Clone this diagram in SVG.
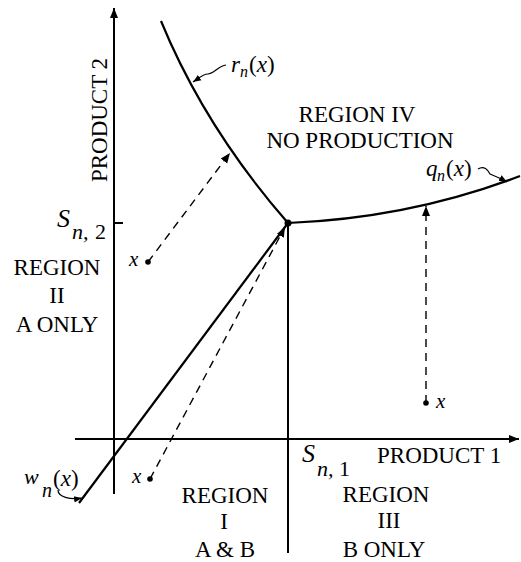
<svg xmlns="http://www.w3.org/2000/svg" width="521" height="562" viewBox="0 0 521 562">
<defs>
<style>
.ax{stroke:#000;stroke-width:2;fill:none}
.cv{stroke:#000;stroke-width:2.2;fill:none}
.ds{stroke:#000;stroke-width:1.4;fill:none;stroke-dasharray:8 6}
.ld{stroke:#000;stroke-width:1.2;fill:none}
text{font-family:"Liberation Serif","Times New Roman",serif;fill:#000}
.lb{font-size:23px;text-anchor:middle}
.it{font-style:italic}
</style>
<marker id="ah" viewBox="0 0 10 10" refX="10" refY="5" markerWidth="10" markerHeight="10" markerUnits="userSpaceOnUse" orient="auto">
<path d="M0,1 L10,5 L0,9 Z" fill="#000"/>
</marker>
<marker id="ahs" viewBox="0 0 10 10" refX="10" refY="5" markerWidth="8" markerHeight="8" markerUnits="userSpaceOnUse" orient="auto">
<path d="M0,1 L10,5 L0,9 Z" fill="#000"/>
</marker>
</defs>
<rect width="521" height="562" fill="#fff"/>
<g id="connectors">
<line class="ax" x1="114" y1="494" x2="114" y2="8" marker-end="url(#ah)"/>
<line class="ax" x1="75" y1="439" x2="519" y2="439" marker-end="url(#ah)"/>
<line class="ax" x1="114" y1="223" x2="123" y2="223"/>
<line class="ax" x1="288" y1="223" x2="288" y2="553"/>
<path id="rn" class="cv" d="M161,21 Q205,128 288,223"/>
<path id="qn" class="cv" d="M288,223 Q410,218 520,176"/>
<line id="wn" class="cv" x1="288" y1="223" x2="79" y2="503"/>
<circle cx="288" cy="223" r="3.5" fill="#000"/>
<line class="ds" x1="148" y1="262" x2="230" y2="153" marker-end="url(#ah)"/>
<line class="ds" x1="150" y1="479" x2="285" y2="227" marker-end="url(#ah)"/>
<line class="ds" x1="426" y1="403" x2="426" y2="206" marker-end="url(#ah)"/>
<path class="ld" d="M226,65 C218,66 214,74 208,74 C203,74 199,78 193,82" marker-end="url(#ahs)"/>
<path class="ld" d="M478,169 C484,165 488,170 490,174 C495,176 500,178 507,182" marker-end="url(#ahs)"/>
<path class="ld" d="M58,490 C58,497 70,500 82,498" marker-end="url(#ahs)"/>
</g>
<g id="points">
<circle cx="148" cy="262" r="2.8" fill="#000"/>
<circle cx="150" cy="479" r="2.8" fill="#000"/>
<circle cx="426" cy="403" r="2.8" fill="#000"/>
<text x="129" y="266" class="it" font-size="21">x</text>
<text x="132" y="483" class="it" font-size="21">x</text>
<text x="436" y="408" class="it" font-size="21">x</text>
</g>
<g id="axis-labels">
<text class="lb" transform="translate(107,120) rotate(-90)">PRODUCT 2</text>
<text x="377" y="463" font-size="23">PRODUCT 1</text>
<g id="s2"><text x="57" y="227" class="it" font-size="26">S</text><text x="72" y="239" class="it" font-size="22">n,</text><text x="95" y="239" font-size="22">2</text></g>
<g id="s1"><text x="302" y="462" class="it" font-size="26">S</text><text x="317" y="476" class="it" font-size="22">n,</text><text x="339" y="476" font-size="22">1</text></g>
</g>
<g id="curve-labels">
<g id="rn-label"><text x="231" y="72" class="it" font-size="23">r</text><text x="240" y="77" class="it" font-size="16">n</text><text x="249" y="72" font-size="23">(<tspan class="it">x</tspan>)</text></g>
<g id="qn-label"><text x="426" y="176" class="it" font-size="23">q</text><text x="437" y="181" class="it" font-size="16">n</text><text x="446" y="176" font-size="23">(<tspan class="it">x</tspan>)</text></g>
<g id="wn-label"><text x="24" y="484" class="it" font-size="22">w</text><text x="42" y="497" class="it" font-size="20">n</text><text x="53" y="486" font-size="23">(<tspan class="it">x</tspan>)</text></g>
</g>
<g id="region-IV"><text class="lb" x="357" y="122">REGION IV</text><text class="lb" x="360" y="148">NO PRODUCTION</text></g>
<g id="region-II"><text class="lb" x="57" y="275">REGION</text><text class="lb" x="57" y="303">II</text><text class="lb" x="57" y="332">A ONLY</text></g>
<g id="region-I"><text class="lb" x="225" y="503">REGION</text><text class="lb" x="224" y="529">I</text><text class="lb" x="225" y="557">A &amp; B</text></g>
<g id="region-III"><text class="lb" x="386" y="502">REGION</text><text class="lb" x="389" y="528">III</text><text class="lb" x="384" y="557">B ONLY</text></g>
</svg>
